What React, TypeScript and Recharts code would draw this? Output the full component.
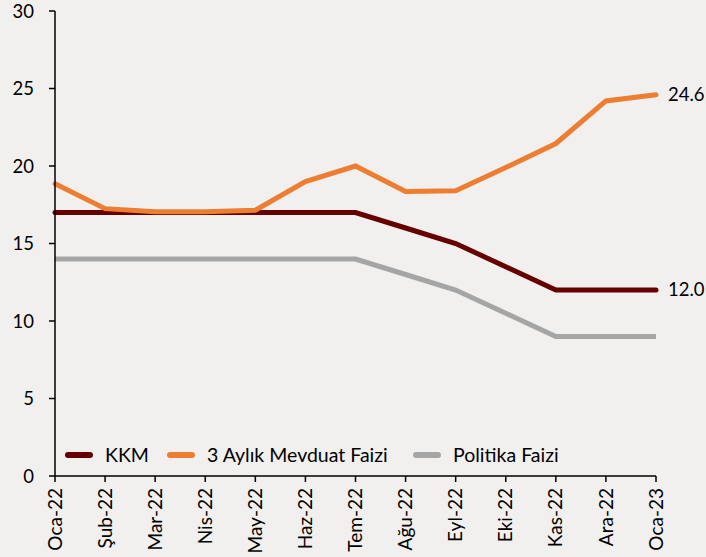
import React from 'react';
import { LineChart, Line, XAxis, YAxis, LabelList } from 'recharts';

const months = ['Oca-22', 'Şub-22', 'Mar-22', 'Nis-22', 'May-22', 'Haz-22', 'Tem-22', 'Ağu-22', 'Eyl-22', 'Eki-22', 'Kas-22', 'Ara-22', 'Oca-23'];
const kkm = [17, 17, 17, 17, 17, 17, 17, 16, 15, 13.5, 12, 12, 12];
const mevduat = [18.85, 17.25, 17.05, 17.05, 17.15, 19.0, 20.0, 18.35, 18.4, 19.9, 21.45, 24.2, 24.6];
const politika = [14, 14, 14, 14, 14, 14, 14, 13, 12, 10.5, 9, 9, 9];
const yTicks = [0, 5, 10, 15, 20, 25, 30];

const data = months.map((m, i) => ({
  name: m,
  kkm: kkm[i],
  mevduat: mevduat[i],
  politika: politika[i],
}));

const FONT = 'Lato, "Open Sans", sans-serif';

const series = [
  { key: 'kkm', name: 'KKM', color: '#660000' },
  { key: 'mevduat', name: '3 Aylık Mevduat Faizi', color: '#ED7D31' },
  { key: 'politika', name: 'Politika Faizi', color: '#A5A5A5' },
];

const XTick = (props: any) => {
  const { x, y, payload } = props;
  return (
    <text
      x={x}
      y={y}
      transform={`rotate(-90 ${x} ${y})`}
      textAnchor="end"
      dy="0.35em"
      fill="#000"
      fontSize={19}
      fontFamily={FONT}
    >
      {payload.value}
    </text>
  );
};

const EndLabel = (props: any) => {
  const { x, y, index, value } = props;
  if (index !== months.length - 1) return null;
  return (
    <text x={x + 12} y={y} dy="0.35em" fill="#000" fontSize={18.5} fontFamily={FONT}>
      {Number(value).toFixed(1)}
    </text>
  );
};

const legendPos = [68, 170, 416];

const App: React.FC = () => {
  return (
    <div style={{ position: 'absolute', left: 0, top: 0, width: 706, height: 557, background: '#F2F0EE' }}>
      <LineChart width={706} height={557} data={data} margin={{ top: 11, right: 50, left: 0, bottom: 0 }}>
        <XAxis
          dataKey="name"
          interval={0}
          height={81}
          tick={<XTick />}
          tickSize={6}
          tickMargin={6}
          axisLine={{ stroke: '#000', strokeWidth: 1.5 }}
          tickLine={{ stroke: '#000', strokeWidth: 1.5 }}
        />
        <YAxis
          domain={[0, 30]}
          ticks={yTicks}
          width={55}
          tickSize={6}
          tickMargin={15}
          tick={{ fill: '#000', fontSize: 18.5, fontFamily: FONT }}
          axisLine={{ stroke: '#000', strokeWidth: 1.5 }}
          tickLine={{ stroke: '#000', strokeWidth: 1.5 }}
        />
        <Line dataKey="politika" stroke="#A5A5A5" strokeWidth={5} dot={false} isAnimationActive={false} />
        <Line dataKey="kkm" stroke="#660000" strokeWidth={5} dot={false} isAnimationActive={false} strokeLinecap="round">
          <LabelList dataKey="kkm" content={<EndLabel />} />
        </Line>
        <Line dataKey="mevduat" stroke="#ED7D31" strokeWidth={5} dot={false} isAnimationActive={false} strokeLinecap="round">
          <LabelList dataKey="mevduat" content={<EndLabel />} />
        </Line>
        <g>
          {series.map((s, i) => (
            <g key={s.key}>
              <line
                x1={legendPos[i]}
                x2={legendPos[i] + 22}
                y1={455}
                y2={455}
                stroke={s.color}
                strokeWidth={6}
                strokeLinecap="round"
              />
              <text x={legendPos[i] + 37} y={455} dy="0.35em" fontSize={19.5} fontFamily={FONT} fill="#000">
                {s.name}
              </text>
            </g>
          ))}
        </g>
      </LineChart>
    </div>
  );
};

export default App;
